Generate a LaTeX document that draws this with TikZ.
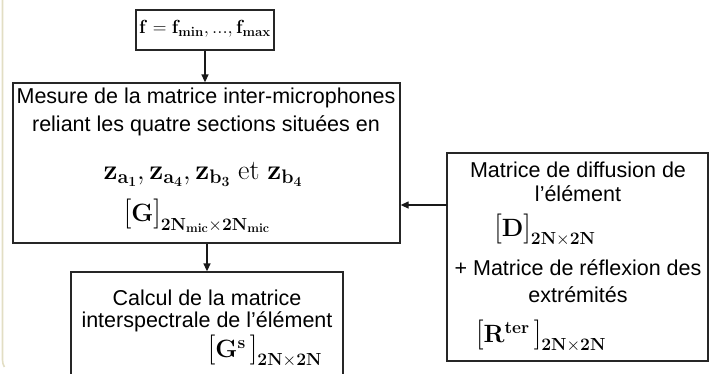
\documentclass[tikz,border=0pt]{standalone}
\usepackage{fix-cm}
\usepackage{amsmath}
\usepackage[no-math]{fontspec}
\setmainfont{Liberation Sans}
\usetikzlibrary{arrows.meta}
\newcommand{\txtsz}{\fontsize{21.5}{25}\selectfont}
\newcommand{\mathsz}{\fontsize{25}{30}\selectfont}
\newcommand{\lbk}{\mathopen{\hbox{\fontsize{30}{30}\selectfont$[$}}}
\newcommand{\rbk}{\mathclose{\hbox{\fontsize{30}{30}\selectfont$]$}}}
\begin{document}
\begin{tikzpicture}[x=1pt,y=-1pt,
  box/.style={draw=black!85,line width=1.3pt,rectangle,inner sep=0pt},
  txt/.style={inner sep=0pt,font=\txtsz},
  mth/.style={inner sep=0pt,font=\mathsz},
  arr/.style={draw=black!90,line width=1.3pt,-{Triangle[length=8pt,width=7pt]}}]
\useasboundingbox (0,0) rectangle (714,373);
\clip (0,0) rectangle (714,373);
% frame remnant
\draw[draw={rgb,255:red,226;green,222;blue,196},line width=1.6pt] (2.5,-5) -- (2.5,360) arc[start angle=180,end angle=150,radius=14];
% boxes
\node[box,minimum width=138pt,minimum height=40pt] (top) at (205,30) {};
\node[box,minimum width=387pt,minimum height=160pt] (main) at (206.5,163) {};
\node[box,minimum width=261pt,minimum height=208pt] (right) at (577.5,257) {};
\node[box,minimum width=272pt,minimum height=130pt] (calc) at (207,337) {};
% texts
\node[inner sep=0pt,font=\fontsize{19}{22}\selectfont] (ftxt) at (205,29) {$\mathbf{f}=\mathbf{f}_{\mathbf{min}},\mathbf{...},\mathbf{f}_{\mathbf{max}}$};
\node[txt] (m1) at (206,98) {Mesure de la matrice inter-microphones};
\node[txt] (m2) at (206,126) {reliant les quatre sections situées en};
\node[inner sep=0pt,font=\fontsize{28}{32}\selectfont] (m3) at (203,174) {$\mathbf{z}_{\mathbf{a}_{\mathbf{1}}},\mathbf{z}_{\mathbf{a}_{\mathbf{4}}},\mathbf{z}_{\mathbf{b}_{\mathbf{3}}}\ \mathrm{et}\ \mathbf{z}_{\mathbf{b}_{\mathbf{4}}}$};
\node[mth] (m4) at (197,216) {$\lbk\mathbf{G}\rbk_{\mathbf{2N}_{\mathbf{mic}}\times\mathbf{2N}_{\mathbf{mic}}}$};
\node[txt] (r1) at (578,170) {Matrice de diffusion de};
\node[txt] (r2) at (578,194) {l’élément};
\node[mth] (r3) at (545,230) {$\lbk\mathbf{D}\rbk_{\mathbf{2N}\times\mathbf{2N}}$};
\node[txt] (r4) at (578,268) {+ Matrice de réflexion des};
\node[txt] (r5) at (578,295) {extrémités};
\node[mth] (r6) at (541,336) {$\lbk\mathbf{R}^{\mathbf{ter}}\,\rbk_{\mathbf{2N}\times\mathbf{2N}}$};
\node[txt] (c1) at (207,298) {Calcul de la matrice};
\node[txt] (c2) at (207,322) {interspectrale de l’élément};
\node[mth] (c3) at (265,351) {$\lbk\mathbf{G}^{\mathbf{s}}\,\rbk_{\mathbf{2N}\times\mathbf{2N}}$};
% arrows
\draw[arr] (top.south) -- (main.north -| top.south);
\coordinate (ra) at (447,205);
\draw[arr] (ra) -- (ra -| main.east);
\draw[arr] (main.south -| calc.north) -- (calc.north);
\end{tikzpicture}
\end{document}
